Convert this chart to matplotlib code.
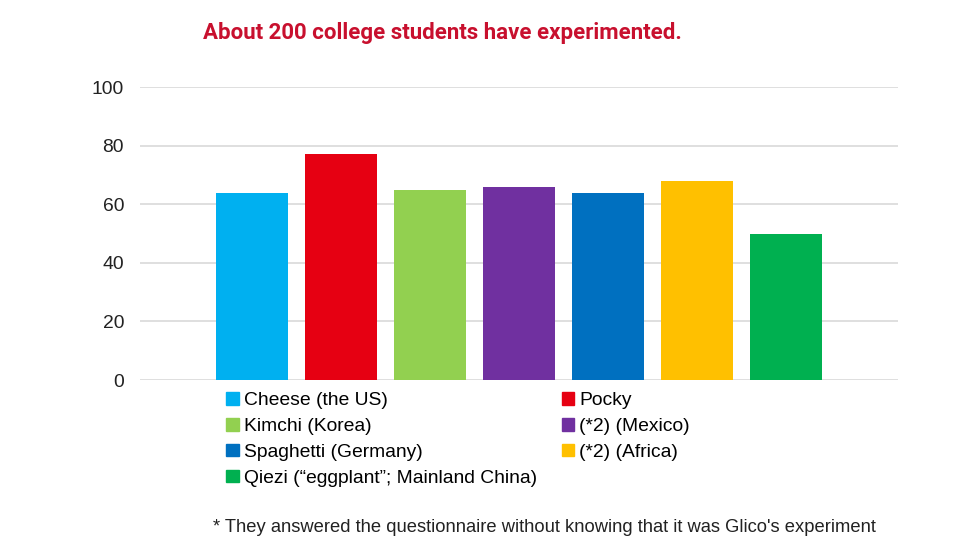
import matplotlib.pyplot as plt
from matplotlib.patches import Patch

plt.rcParams['font.family'] = ['Liberation Sans', 'DejaVu Sans']

labels = ['Cheese (the US)', 'Pocky', 'Kimchi (Korea)', '(*2) (Mexico)',
          'Spaghetti (Germany)', '(*2) (Africa)',
          'Qiezi (\u201ceggplant\u201d; Mainland China)']
values = [64, 77, 65, 66, 64, 68, 50]
colors = ['#00B0F0', '#E60012', '#92D050', '#7030A0', '#0070C0', '#FFC000', '#00B050']
yticks = [0, 20, 40, 60, 80, 100]

fig = plt.figure(figsize=(9.8, 5.51), dpi=100)
ax = fig.add_axes([0.1429, 0.3103, 0.7734, 0.5317])

x = list(range(len(values)))
ax.bar(x, values, width=0.81, color=colors, zorder=3)

ax.set_xlim(-1.26, 6 + 1.26)
ax.set_ylim(0, 100)
ax.set_yticks(yticks)
ax.set_xticks([])
ax.tick_params(axis='y', length=0, labelsize=13.9, pad=11.5, labelcolor='#222222')
ax.grid(axis='y', color='#D9D9D9', linewidth=1.2, zorder=0)
for s in ax.spines.values():
    s.set_visible(False)

# legend is row-major in the picture, matplotlib fills columns first
order = [0, 2, 4, 6, 1, 3, 5]
handles = [Patch(color=colors[i], label=labels[i]) for i in order]
fig.legend(handles=handles, ncol=2, loc='upper left',
           bbox_to_anchor=(0.223, 0.303), frameon=False, fontsize=13.9,
           handlelength=0.65, handleheight=0.65, handletextpad=0.25,
           labelspacing=0.45, columnspacing=1.3, borderaxespad=0)

fig.text(0.207, 0.94, 'About 200 college students have experimented.',
         fontsize=16, fontweight='bold', color='#C8102E', family='Roboto',
         va='center')
fig.text(0.217, 0.043,
         "* They answered the questionnaire without knowing that it was Glico's experiment",
         fontsize=13.2, color='#222222', va='center')

fig.savefig('out.png', dpi=100)
